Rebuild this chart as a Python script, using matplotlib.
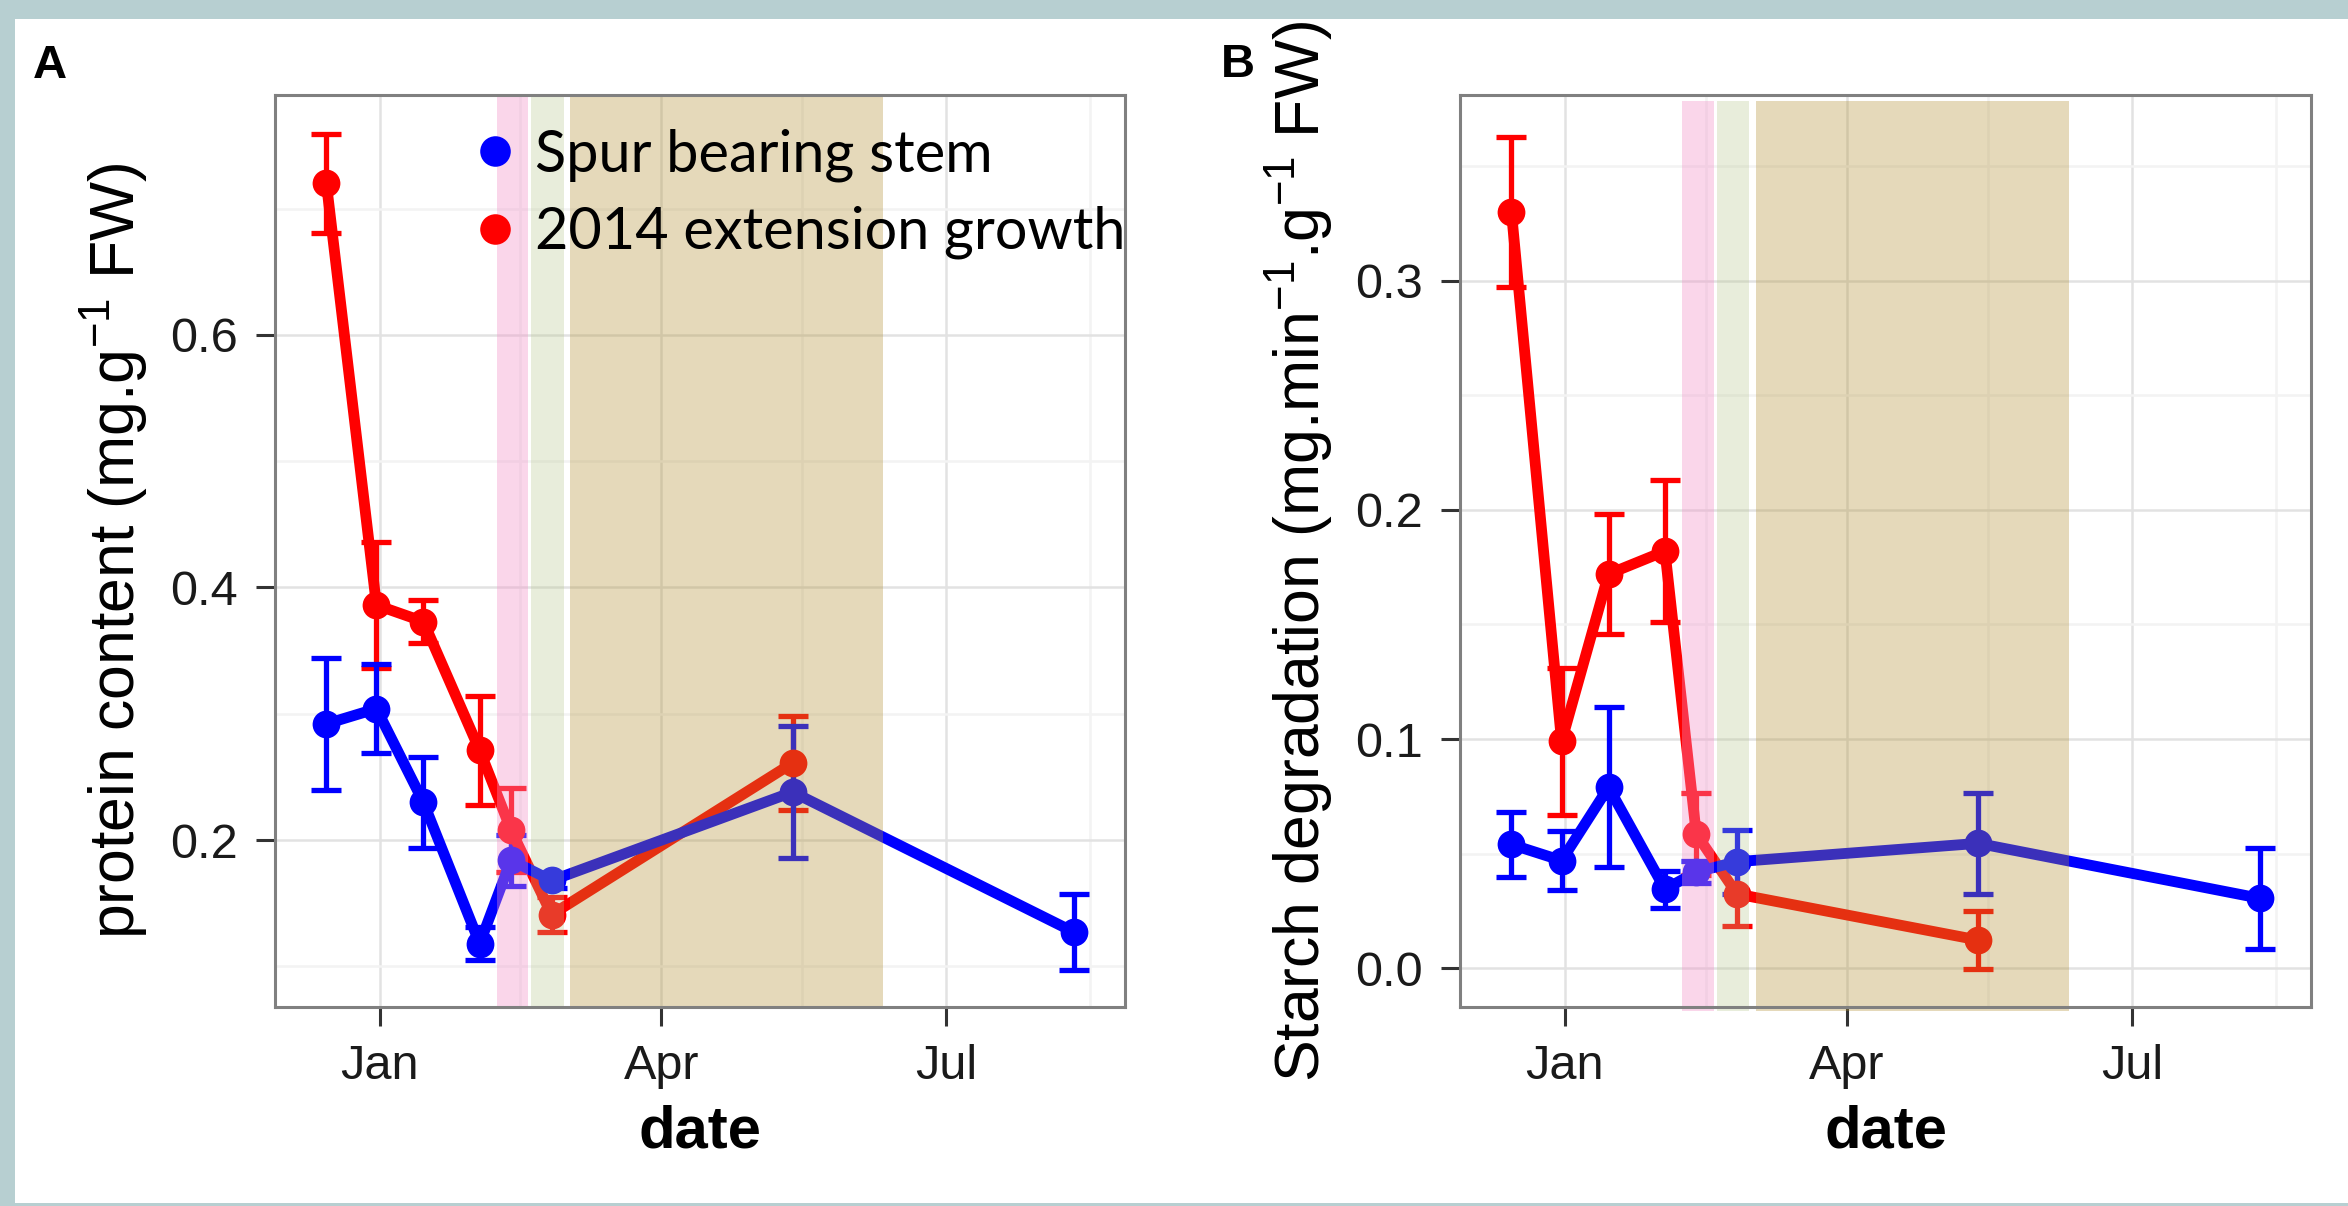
import matplotlib
matplotlib.use('Agg')
import matplotlib.pyplot as plt
import matplotlib.dates as mdates
from matplotlib.lines import Line2D
from matplotlib.patches import Rectangle
import pandas as pd

plt.rcParams['font.family'] = ['Liberation Sans', 'DejaVu Sans']
plt.rcParams['mathtext.fontset'] = 'custom'
plt.rcParams['mathtext.rm'] = 'Liberation Sans'
plt.rcParams['mathtext.it'] = 'Liberation Sans:italic'
plt.rcParams['mathtext.bf'] = 'Liberation Sans:bold'

# ---------------- data ----------------
dates_spur = ['2014-12-15', '2014-12-31', '2015-01-15', '2015-02-02',
              '2015-02-12', '2015-02-25', '2015-05-13', '2015-08-11']
dates_ext = ['2014-12-15', '2014-12-31', '2015-01-15', '2015-02-02',
             '2015-02-12', '2015-02-25', '2015-05-13']

protein_spur = [0.292, 0.304, 0.230, 0.118, 0.184, 0.168, 0.238, 0.127]
protein_spur_err = [0.052, 0.035, 0.036, 0.013, 0.020, 0.006, 0.052, 0.030]
protein_ext = [0.720, 0.386, 0.373, 0.271, 0.208, 0.141, 0.261]
protein_ext_err = [0.039, 0.050, 0.017, 0.043, 0.033, 0.014, 0.037]

starch_spur = [0.054, 0.047, 0.079, 0.0345, 0.042, 0.0465, 0.0545, 0.0305]
starch_spur_err = [0.014, 0.013, 0.035, 0.008, 0.005, 0.014, 0.022, 0.022]
starch_ext = [0.330, 0.099, 0.172, 0.182, 0.0586, 0.0324, 0.0123]
starch_ext_err = [0.0326, 0.032, 0.026, 0.031, 0.018, 0.014, 0.0125]

series_labels = ['Spur bearing stem', '2014 extension growth']

band_starts = ['2015-02-07 12:00', '2015-02-18 12:00', '2015-03-03 00:00']
band_ends = ['2015-02-17 12:00', '2015-02-28 21:00', '2015-06-11 00:00']
band_colors = [(242/255, 146/255, 200/255), (182/255, 198/255, 138/255), (178/255, 145/255, 53/255)]
band_alphas = [0.37, 0.30, 0.337]

xtick_dates = ['2015-01-01', '2015-04-01', '2015-07-01']
xtick_labels = ['Jan', 'Apr', 'Jul']
xminor_dates = ['2015-02-15', '2015-05-16', '2015-08-16']
xlim_dates = ['2014-11-28 14:00', '2015-08-27 05:00']

protein_yticks = [0.2, 0.4, 0.6]
protein_yticklabels = ['0.2', '0.4', '0.6']
protein_yminor = [0.1, 0.3, 0.5, 0.7]
starch_yticks = [0.0, 0.1, 0.2, 0.3]
starch_yticklabels = ['0.0', '0.1', '0.2', '0.3']
starch_yminor = [0.05, 0.15, 0.25, 0.35]


def dnum(lst):
    return mdates.date2num([pd.Timestamp(s).to_pydatetime() for s in lst])


W, H = 2348, 1206
fig = plt.figure(figsize=(W / 100, H / 100), dpi=100, facecolor='#b7cfd1')
fig.patches.append(Rectangle((15 / W, 1 - 1203 / H), (W - 15) / W, (1203 - 19) / H,
                             transform=fig.transFigure, facecolor='white',
                             edgecolor='none', zorder=-5))

axA = fig.add_axes([275 / W, 1 - 1007 / H, 850 / W, 912 / H])
axB = fig.add_axes([1460 / W, 1 - 1007 / H, 851 / W, 912 / H])
axA.set_zorder(1)
axB.set_zorder(1)


def panel(ax, blue, blue_err, red, red_err, ylim, yticks, yticklabels, yminor,
          band_ymin, band_ymax):
    xb = dnum(dates_spur)
    xr = dnum(dates_ext)
    ax.set_facecolor('white')
    ax.set_axisbelow(True)
    ax.set_xticks(dnum(xtick_dates))
    ax.set_xticklabels(xtick_labels)
    ax.set_xticks(dnum(xminor_dates), minor=True)
    ax.set_yticks(yticks)
    ax.set_yticklabels(yticklabels)
    ax.set_yticks(yminor, minor=True)
    ax.grid(which='major', color='#e2e2e2', lw=1.8, zorder=0)
    ax.grid(which='minor', color='#f3f3f3', lw=1.8, zorder=0)
    ax.tick_params(which='major', length=13.7, width=2.2, color='#333333',
                   labelsize=35, labelcolor='#1a1a1a', pad=13)
    ax.tick_params(which='minor', length=0)
    for s in ax.spines.values():
        s.set_color('#808080')
        s.set_linewidth(2.2)
        s.set_zorder(8)

    ax.errorbar(xr, red, yerr=red_err, fmt='none', ecolor='#ff0000',
                elinewidth=3.8, capsize=10.5, capthick=3.8, zorder=2)
    ax.errorbar(xb, blue, yerr=blue_err, fmt='none', ecolor='#0000ff',
                elinewidth=3.8, capsize=10.5, capthick=3.8, zorder=2.1)
    ax.plot(xr, red, color='#ff0000', lw=7.8, zorder=3, solid_joinstyle='round')
    ax.plot(xb, blue, color='#0000ff', lw=7.8, zorder=3.1, solid_joinstyle='round')
    ax.plot(xr, red, 'o', color='#ff0000', ms=20, zorder=3.2, mew=0)
    ax.plot(xb, blue, 'o', color='#0000ff', ms=20, zorder=3.3, mew=0)

    for s0, s1, c, a in zip(dnum(band_starts), dnum(band_ends), band_colors, band_alphas):
        ax.axvspan(s0, s1, ymin=band_ymin, ymax=band_ymax, color=c, alpha=a,
                   lw=0, zorder=5, clip_on=False)

    ax.set_xlim(dnum(xlim_dates))
    ax.set_ylim(ylim)


panel(axA, protein_spur, protein_spur_err, protein_ext, protein_ext_err,
      (0.0678, 0.7899), protein_yticks, protein_yticklabels, protein_yminor, 0.0, 1.0)
panel(axB, starch_spur, starch_spur_err, starch_ext, starch_ext_err,
      (-0.0169, 0.381), starch_yticks, starch_yticklabels, starch_yminor, -0.004, 0.9935)

handles = [Line2D([], [], marker='o', ls='none', color='#0000ff', ms=22, mew=0),
           Line2D([], [], marker='o', ls='none', color='#ff0000', ms=22, mew=0)]
leg = axA.legend(handles, series_labels, loc='upper left',
                 bbox_to_anchor=(478.5 / W, 1 - 128 / H), bbox_transform=fig.transFigure,
                 frameon=False, prop={'family': 'Lato', 'size': 41.5},
                 handlelength=0.58, handletextpad=0.4, labelspacing=0.42,
                 borderpad=0, borderaxespad=0, numpoints=1)
leg.set_zorder(10)

fig.text(150 / W, 1 - 551 / H, 'protein content (mg.g$^{-1}$ FW)', rotation=90,
         ha='right', va='center', fontsize=45, color='black')
fig.text(1335 / W, 1 - 552 / H, 'Starch degradation (mg.min$^{-1}$.g$^{-1}$ FW)',
         rotation=90, ha='right', va='center', fontsize=45, color='black')
fig.text(700 / W, 1 - 1147 / H, 'date', ha='center', va='baseline',
         fontsize=43, fontweight='bold')
fig.text(1885.5 / W, 1 - 1147 / H, 'date', ha='center', va='baseline',
         fontsize=43, fontweight='bold')
fig.text(33 / W, 1 - 78 / H, 'A', ha='left', va='baseline', fontsize=34, fontweight='bold')
fig.text(1221 / W, 1 - 77 / H, 'B', ha='left', va='baseline', fontsize=34, fontweight='bold')

fig.savefig('out.png', dpi=100, facecolor=fig.get_facecolor())
